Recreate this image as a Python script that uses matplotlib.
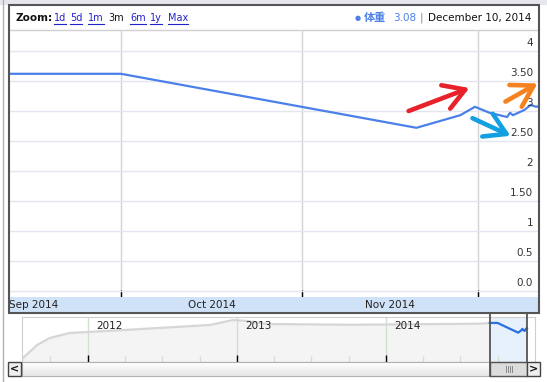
import matplotlib
matplotlib.use('Agg')
import matplotlib.pyplot as plt
import matplotlib.dates as mdates
from matplotlib.patches import Rectangle, FancyArrowPatch
from matplotlib.lines import Line2D
import numpy as np
import pandas as pd

plt.rcParams['font.family'] = ['DejaVu Sans', 'Noto Sans CJK SC']

# main series (3 month window)
dates = ['2014-09-12', '2014-10-01', '2014-11-20 12:00', '2014-11-28', '2014-11-30 12:00',
         '2014-12-03', '2014-12-06', '2014-12-06 12:00', '2014-12-07', '2014-12-09',
         '2014-12-10', '2014-12-11', '2014-12-12']
weights = [3.62, 3.62, 2.72, 2.93, 3.07, 2.97, 2.90, 2.97, 2.93, 3.02, 3.10, 3.07, 3.10]

# overview history
hist_dates = ['2011-07-23', '2011-08-29', '2011-09-29', '2011-11-17', '2012-01-01', '2012-03-27',
              '2012-10-26', '2012-12-21', '2013-01-25', '2013-03-15', '2013-10-07', '2014-08-20',
              '2014-09-12']
hist_vals = [0.28, 1.57, 2.22, 2.69, 2.78, 2.96, 3.43, 3.89, 3.80, 3.52, 3.45, 3.55, 3.62]

ytick_vals = [0, 0.5, 1, 1.5, 2, 2.5, 3, 3.5, 4]
ytick_labels = ['0.0', '0.5', '1', '1.50', '2', '2.50', '3', '3.50', '4']
month_starts = ['2014-10-01', '2014-11-01', '2014-12-01']
month_labels = ['Sep 2014', 'Oct 2014', 'Nov 2014']
month_mids = ['2014-09-16', '2014-10-16 12:00', '2014-11-16']
years = ['2012-01-01', '2013-01-01', '2014-01-01']
year_labels = ['2012', '2013', '2014']
zoom_links = ['1d', '5d', '1m', '3m', '6m', '1y', 'Max']
zoom_x = [54, 70, 88, 108, 130, 150, 168]

W, H = 547, 382
BLUE = '#4a80e8'


def box(x0, y0, x1, y1):
    return [x0 / W, 1 - y1 / H, (x1 - x0) / W, (y1 - y0) / H]


def fx(x):
    return x / W


def fy(y):
    return 1 - y / H


def to_num(lst):
    return mdates.date2num(pd.to_datetime(lst, format='mixed'))


d = to_num(dates)
hd = to_num(hist_dates)
oct1 = mdates.date2num(pd.Timestamp('2014-10-01'))

fig = plt.figure(figsize=(W / 100, H / 100), dpi=100)

# page background bits
fig.patches.append(Rectangle((0, fy(5)), 1, 5 / H, transform=fig.transFigure,
                             facecolor='#e6e6ee', edgecolor='none', zorder=0))
fig.add_artist(Line2D([fx(2.5), fx(2.5)], [0, 1], color='#b0b0b0', lw=1))

# main plot
ax = fig.add_axes(box(9, 30, 539, 297))
ax.plot(d, weights, color=BLUE, lw=1.6, solid_joinstyle='round')
ax.set_xlim(oct1 - 112 / 5.85, oct1 + 418 / 5.85)
ax.set_ylim(-0.1, 4.35)
ax.set_yticks(ytick_vals)
ax.set_xticks(to_num(month_starts))
ax.grid(axis='y', color='#e3e5f1', lw=1)
ax.grid(axis='x', color='#d2d2d2', lw=1)
ax.tick_params(axis='y', length=0, labelleft=False)
ax.tick_params(axis='x', direction='in', length=5, width=1, color='black', labelbottom=False)
for s in ax.spines.values():
    s.set_visible(False)
for v, lab in zip(ytick_vals, ytick_labels):
    ax.text(0.989, v + 0.135, lab, transform=ax.get_yaxis_transform(), ha='right',
            va='center', fontsize=7.5, color='#333333')

# date band
axb = fig.add_axes(box(9, 297, 539, 312))
axb.set_facecolor('#d0e2f7')
axb.set_xlim(ax.get_xlim())
axb.set_xticks([])
axb.set_yticks([])
for s in axb.spines.values():
    s.set_visible(False)
for m, lab in zip(to_num(month_mids), month_labels):
    axb.text(m, 0.5, lab, ha='center', va='center', fontsize=7.5, color='#222222', clip_on=True)

# outer box + header
fig.patches.append(Rectangle((fx(9), fy(313)), (539 - 9) / W, (313 - 5) / H,
                             transform=fig.transFigure, facecolor='none',
                             edgecolor='#555555', lw=1.5, zorder=5))
fig.add_artist(Line2D([fx(9), fx(539)], [fy(30), fy(30)], color='#d0d0d0', lw=1))

fig.text(fx(15), fy(18), 'Zoom:', fontsize=7.5, fontweight='bold', va='center', color='#111111')
renderer = fig.canvas.get_renderer()
for lab, xpos in zip(zoom_links, zoom_x):
    col = '#111111' if lab == '3m' else '#2222cc'
    t = fig.text(fx(xpos), fy(18), lab, fontsize=7, va='center', color=col)
    bb = t.get_window_extent(renderer)
    if lab != '3m':
        fig.add_artist(Line2D([bb.x0 / W, bb.x1 / W], [fy(23.5), fy(23.5)], color=col, lw=0.8))

fig.text(fx(355), fy(18), '\u25cf', fontsize=5, va='center', color=BLUE)
fig.text(fx(364), fy(18), '体重', fontsize=8, va='center', color=BLUE, fontweight='bold',
         family=['Noto Sans CJK SC', 'DejaVu Sans'])
fig.text(fx(393), fy(18), '3.08', fontsize=7.5, va='center', color=BLUE)
fig.text(fx(420), fy(18), '|', fontsize=7.5, va='center', color='#888888')
fig.text(fx(428), fy(18), 'December 10, 2014', fontsize=7.5, va='center', color='#111111')

# overview
axo = fig.add_axes(box(22, 317, 535, 362))
x_left = mdates.date2num(pd.Timestamp('2012-01-01')) - 66 / 149 * 365.25
x_right = x_left + (535 - 22) / 149 * 365.25
axo.set_xlim(x_left, x_right)
axo.set_ylim(0, 4.17)
axo.fill_between(hd, hist_vals, 0, color='#f4f4f4', lw=0)
axo.plot(hd, hist_vals, color='#d6d6d6', lw=1.6)
axo.axvspan(d[0], d[-1], color='#e6f1fc', lw=0)
axo.plot(d, weights, color='#2a6fe0', lw=1.6)
yn = to_num(years)
axo.set_xticks(yn)
qs = pd.date_range('2011-10-01', '2014-12-31', freq='QS-JAN')
axo.set_xticks(mdates.date2num(qs), minor=True)
axo.grid(axis='x', which='major', color='#d2e0d2', lw=1)
axo.tick_params(axis='x', which='major', direction='in', length=5, width=1, color='black',
                labelbottom=False)
axo.tick_params(axis='x', which='minor', direction='in', length=4, width=1, color='#cfe2cf')
axo.set_yticks([])
for k in ['top', 'left', 'right']:
    axo.spines[k].set_color('#cfcfcf')
axo.spines['bottom'].set_color('#a8a8a8')
for yv, lab in zip(yn, year_labels):
    axo.text(yv + 20, 0.8, lab, transform=axo.get_xaxis_transform(), fontsize=7.5,
             va='center', color='#222222')

# scrollbar
axs = fig.add_axes(box(22, 362, 527, 376))
grad = np.linspace(1, 0.9, 20).reshape(-1, 1)
axs.imshow(grad, aspect='auto', cmap='gray', vmin=0, vmax=1, extent=[0, 1, 0, 1])
axs.set_xlim(0, 1)
axs.set_ylim(0, 1)
axs.set_xticks([])
axs.set_yticks([])
for s in axs.spines.values():
    s.set_color('#b0b0b0')
# thumb
fig.patches.append(Rectangle((fx(490), fy(376)), 37 / W, 14 / H, transform=fig.transFigure,
                             facecolor='#dcdcdc', edgecolor='#555555', lw=1, zorder=6))
for gx in (505, 507, 509, 511):
    fig.add_artist(Line2D([fx(gx + 0.5), fx(gx + 0.5)], [fy(372), fy(366)], color='#8a8a8a',
                          lw=0.7, zorder=7))
# highlight box sides
for xx in (490, 527):
    fig.add_artist(Line2D([fx(xx), fx(xx)], [fy(313), fy(376)], color='#555555', lw=1.3,
                          zorder=6))
# buttons
for x0, glyph in ((8, '<'), (527, '>')):
    fig.patches.append(Rectangle((fx(x0), fy(376)), 13 / W, 14 / H, transform=fig.transFigure,
                                 facecolor='#eeeeee', edgecolor='#444444', lw=1, zorder=6))
    fig.text(fx(x0 + 6.5), fy(369), glyph, fontsize=8, fontweight='bold', ha='center',
             va='center', color='#111111', zorder=7)

# hand drawn arrows
arrows = [((406, 112), (472, 87), '#e8222b'),
          ((503, 103), (540, 82), '#f5821f'),
          ((470, 117), (513, 137), '#12a0e0')]
for (x0, y0), (x1, y1), c in arrows:
    fig.add_artist(FancyArrowPatch((fx(x0), fy(y0)), (fx(x1), fy(y1)),
                                   transform=fig.transFigure,
                                   arrowstyle='->,head_length=0.75,head_width=0.45',
                                   mutation_scale=20, color=c, lw=3.3,
                                   capstyle='round', joinstyle='round', zorder=8))

fig.savefig('out.png', dpi=100)
